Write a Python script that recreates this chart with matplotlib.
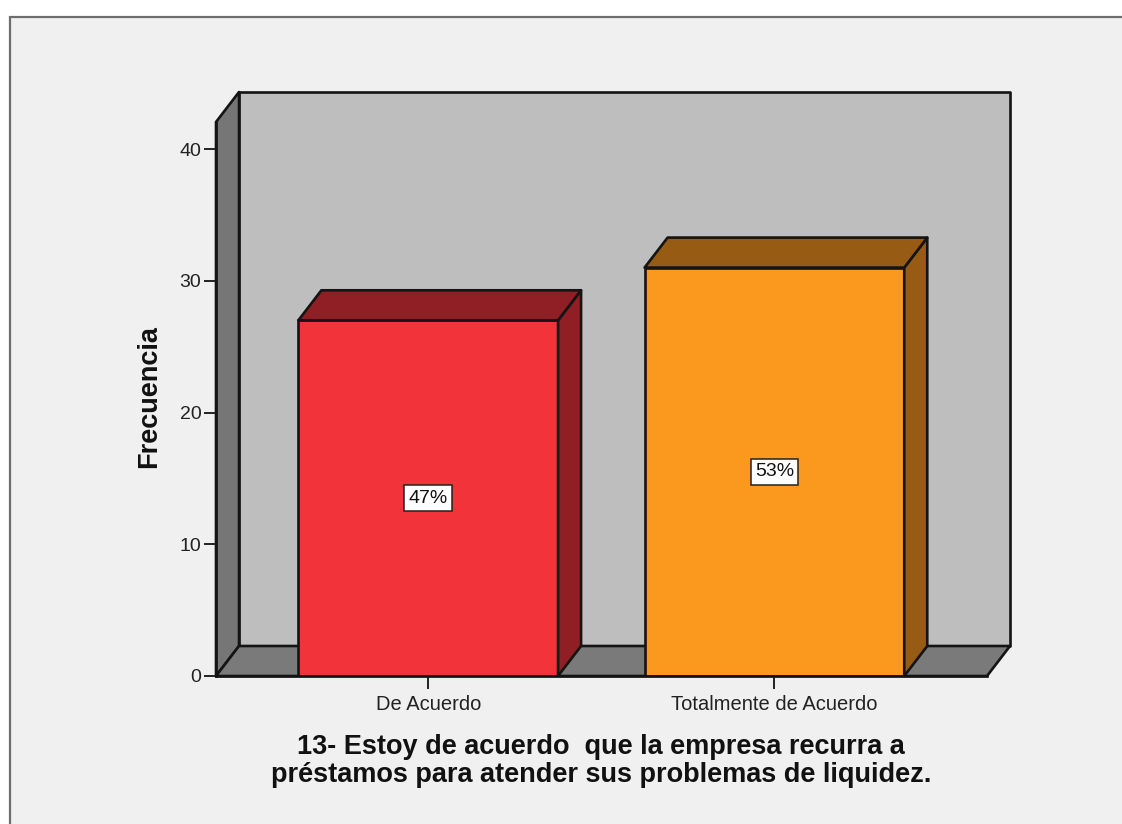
import matplotlib
matplotlib.use('Agg')
import matplotlib.pyplot as plt
from matplotlib.patches import Polygon, Rectangle

plt.rcParams['font.family'] = ['Liberation Sans', 'DejaVu Sans']

categories = ['De Acuerdo', 'Totalmente de Acuerdo']
freqs = [27, 31]
pct_labels = ['47%', '53%']
bar_colors = ['#F2333A', '#FB991F']
side_colors = ['#8F1F24', '#975B13']
y_ticks = [0, 10, 20, 30, 40]
title_lines = '13- Estoy de acuerdo  que la empresa recurra a\npréstamos para atender sus problemas de liquidez.'

W, H = 1122, 824
LW = 1.9
EDGE = '#141414'

fig = plt.figure(figsize=(W/100, H/100), dpi=100, facecolor='white')

# grey panel with the darker frame on top and left
fig.add_artist(Rectangle((10/W, -0.05), 1, 1.05-17/H, transform=fig.transFigure,
                         facecolor='#F0F0F0', edgecolor='#6E6E6E', lw=1.6, zorder=-1))

ax = fig.add_axes([216/W, 1-676/H, (987-216)/W, (676-122)/H])
ax.set_facecolor('none')
ax.set_xlim(-0.613, 1.614)
ax.set_ylim(0, 42.05)

# depth of the fake 3d box, in data units
dx = 23/346
dy = 30/13.175
x0, x1 = ax.get_xlim()
ytop = ax.get_ylim()[1]
bar_w = 0.75


def face(pts, color, z=1):
    ax.add_patch(Polygon(pts, closed=True, facecolor=color, edgecolor=EDGE,
                         lw=LW, clip_on=False, zorder=z, joinstyle='round'))


face([(x0+dx, dy), (x1+dx, dy), (x1+dx, ytop+dy), (x0+dx, ytop+dy)], '#BEBEBE')
face([(x0, 0), (x0+dx, dy), (x0+dx, ytop+dy), (x0, ytop)], '#767676')
face([(x0, 0), (x1, 0), (x1+dx, dy), (x0+dx, dy)], '#7A7A7A')

xs = list(range(len(categories)))
ax.bar(xs, freqs, width=bar_w, color=bar_colors, edgecolor=EDGE, linewidth=LW, zorder=3)
for x, f, side in zip(xs, freqs, side_colors):
    l, r = x-bar_w/2, x+bar_w/2
    face([(r, 0), (r+dx, dy), (r+dx, f+dy), (r, f)], side, 3)
    face([(l, f), (r, f), (r+dx, f+dy), (l+dx, f+dy)], side, 3)

for x, f, t in zip(xs, freqs, pct_labels):
    ax.text(x, f/2, t, ha='center', va='center', fontsize=14, color='#111111', zorder=5,
            bbox=dict(boxstyle='square,pad=0.22', facecolor='white', edgecolor='#222222', lw=1.1))

for s in ['top', 'right']:
    ax.spines[s].set_visible(False)
for s in ['left', 'bottom']:
    ax.spines[s].set_linewidth(LW)
    ax.spines[s].set_color(EDGE)
    ax.spines[s].set_zorder(4)

ax.set_yticks(y_ticks)
ax.set_xticks(xs)
ax.set_xticklabels(categories)
ax.tick_params(axis='y', length=9, width=1.4, color='#222222', labelsize=14, pad=1.5, labelcolor='#222222')
ax.tick_params(axis='x', length=9, width=1.4, color='#222222', labelsize=14.5, pad=4.5, labelcolor='#222222')

fig.text(149/W, 1-397/H, 'Frecuencia', rotation=90, ha='center', va='center',
         fontsize=19.5, fontweight='bold', color='#111111')
fig.text(601/W, 1-761/H, title_lines, ha='center', va='center', fontsize=19.5,
         fontweight='bold', color='#111111', linespacing=1.08)

fig.savefig('out.png', dpi=100)
